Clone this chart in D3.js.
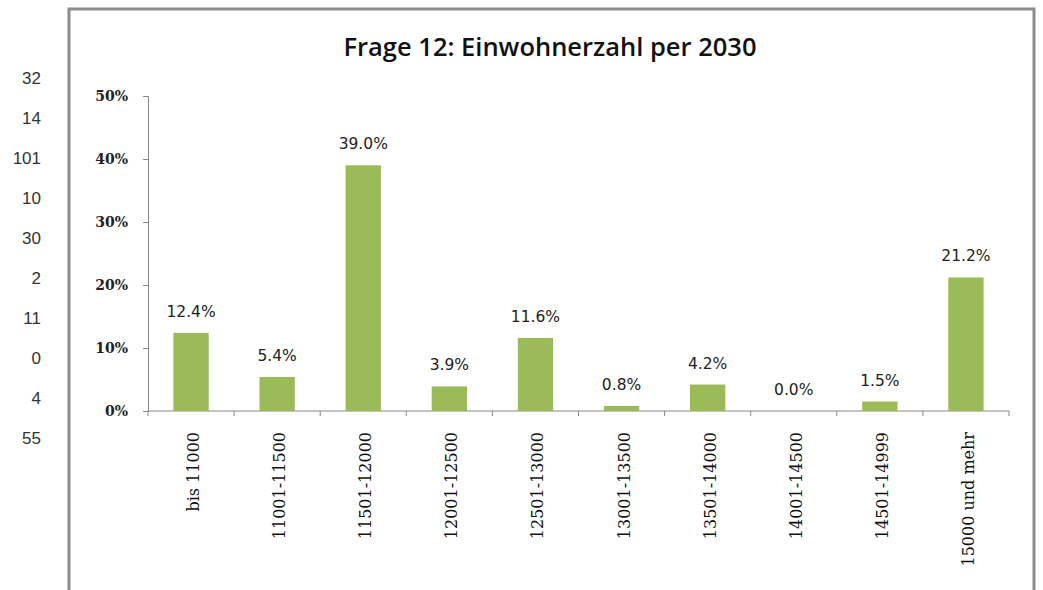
<!DOCTYPE html>
<html>
<head>
<meta charset="utf-8">
<script src="https://cdn.jsdelivr.net/npm/d3@7"></script>
<style>
  body { margin: 0; background: #fff; }
  svg { display: block; }
</style>
</head>
<body>
<div id="main"></div>
<script>
"use strict";

var categories = ["bis 11000", "11001-11500", "11501-12000", "12001-12500", "12501-13000",
                  "13001-13500", "13501-14000", "14001-14500", "14501-14999", "15000 und mehr"];
var shares = [12.4, 5.4, 39.0, 3.9, 11.6, 0.8, 4.2, 0.0, 1.5, 21.2];
var yTicks = [0, 10, 20, 30, 40, 50];
var sideNumbers = ["32", "14", "101", "10", "30", "2", "11", "0", "4", "55"];

var width = 1043, height = 590;
var svg = d3.select("#main").append("svg").attr("width", width).attr("height", height);

// stray numbers to the left of the chart frame
svg.append("g").selectAll("text")
  .data(sideNumbers).enter().append("text")
  .attr("x", 41)
  .attr("y", function(d, i) { return 84 + i * 40; })
  .attr("text-anchor", "end")
  .style("font-family", "Liberation Sans, Arial, sans-serif")
  .style("font-size", "17px")
  .style("fill", "#333")
  .text(function(d) { return d; });

// chart frame
svg.append("path")
  .attr("d", "M69,600 L69,9 L1034,9 L1034,600")
  .style("fill", "none").style("stroke", "#8c8c8c").style("stroke-width", 3);

svg.append("text")
  .attr("x", 550).attr("y", 56)
  .attr("text-anchor", "middle")
  .style("font-family", "Open Sans, Lato, sans-serif")
  .style("font-weight", "600")
  .style("font-size", "25.5px")
  .style("fill", "#111")
  .text("Frage 12: Einwohnerzahl per 2030");

var pLeft = 148, pRight = 1009, pTop = 96, pBottom = 411;

var x = d3.scaleBand().domain(categories).range([pLeft, pRight]).padding(0);
var y = d3.scaleLinear().domain([0, 50]).range([pBottom, pTop]);

// y axis
var yAxis = svg.append("g")
  .attr("transform", "translate(" + pLeft + ",0)")
  .call(d3.axisLeft(y).tickValues(yTicks).tickSize(5).tickPadding(15)
    .tickFormat(function(d) { return d + "%"; }));
yAxis.select(".domain").style("stroke", "#868686");
yAxis.selectAll(".tick line").style("stroke", "#868686");
yAxis.selectAll("text")
  .style("font-family", "DejaVu Serif, serif")
  .style("font-weight", "bold")
  .style("font-size", "14px")
  .style("fill", "#222");

// x axis line and boundary ticks
var xg = svg.append("g");
xg.append("line")
  .attr("x1", pLeft).attr("x2", pRight).attr("y1", pBottom).attr("y2", pBottom)
  .style("stroke", "#868686");
xg.selectAll("line.tk")
  .data(d3.range(categories.length + 1)).enter().append("line")
  .attr("class", "tk")
  .attr("x1", function(i) { return pLeft + i * x.bandwidth(); })
  .attr("x2", function(i) { return pLeft + i * x.bandwidth(); })
  .attr("y1", pBottom).attr("y2", pBottom + 5)
  .style("stroke", "#868686");

xg.selectAll("text.cat")
  .data(categories).enter().append("text")
  .attr("class", "cat")
  .attr("transform", function(d) {
    return "translate(" + (x(d) + x.bandwidth() / 2 + 8) + "," + (pBottom + 21) + ") rotate(-90)";
  })
  .attr("text-anchor", "end")
  .style("font-family", "DejaVu Serif, serif")
  .style("font-size", "16px")
  .style("fill", "#111")
  .text(function(d) { return d; });

// bars
var barW = x.bandwidth() * 0.41;
svg.append("g").selectAll("rect")
  .data(shares).enter().append("rect")
  .attr("x", function(d, i) { return x(categories[i]) + (x.bandwidth() - barW) / 2; })
  .attr("y", function(d) { return y(d); })
  .attr("width", barW)
  .attr("height", function(d) { return pBottom - y(d); })
  .style("fill", "#9bbb59");

// value labels
svg.append("g").selectAll("text")
  .data(shares).enter().append("text")
  .attr("x", function(d, i) { return x(categories[i]) + x.bandwidth() / 2; })
  .attr("y", function(d) { return y(d) - 16; })
  .attr("text-anchor", "middle")
  .style("font-family", "DejaVu Sans, sans-serif")
  .style("font-size", "15.5px")
  .style("fill", "#222")
  .text(function(d) { return d.toFixed(1) + "%"; });
</script>
</body>
</html>
